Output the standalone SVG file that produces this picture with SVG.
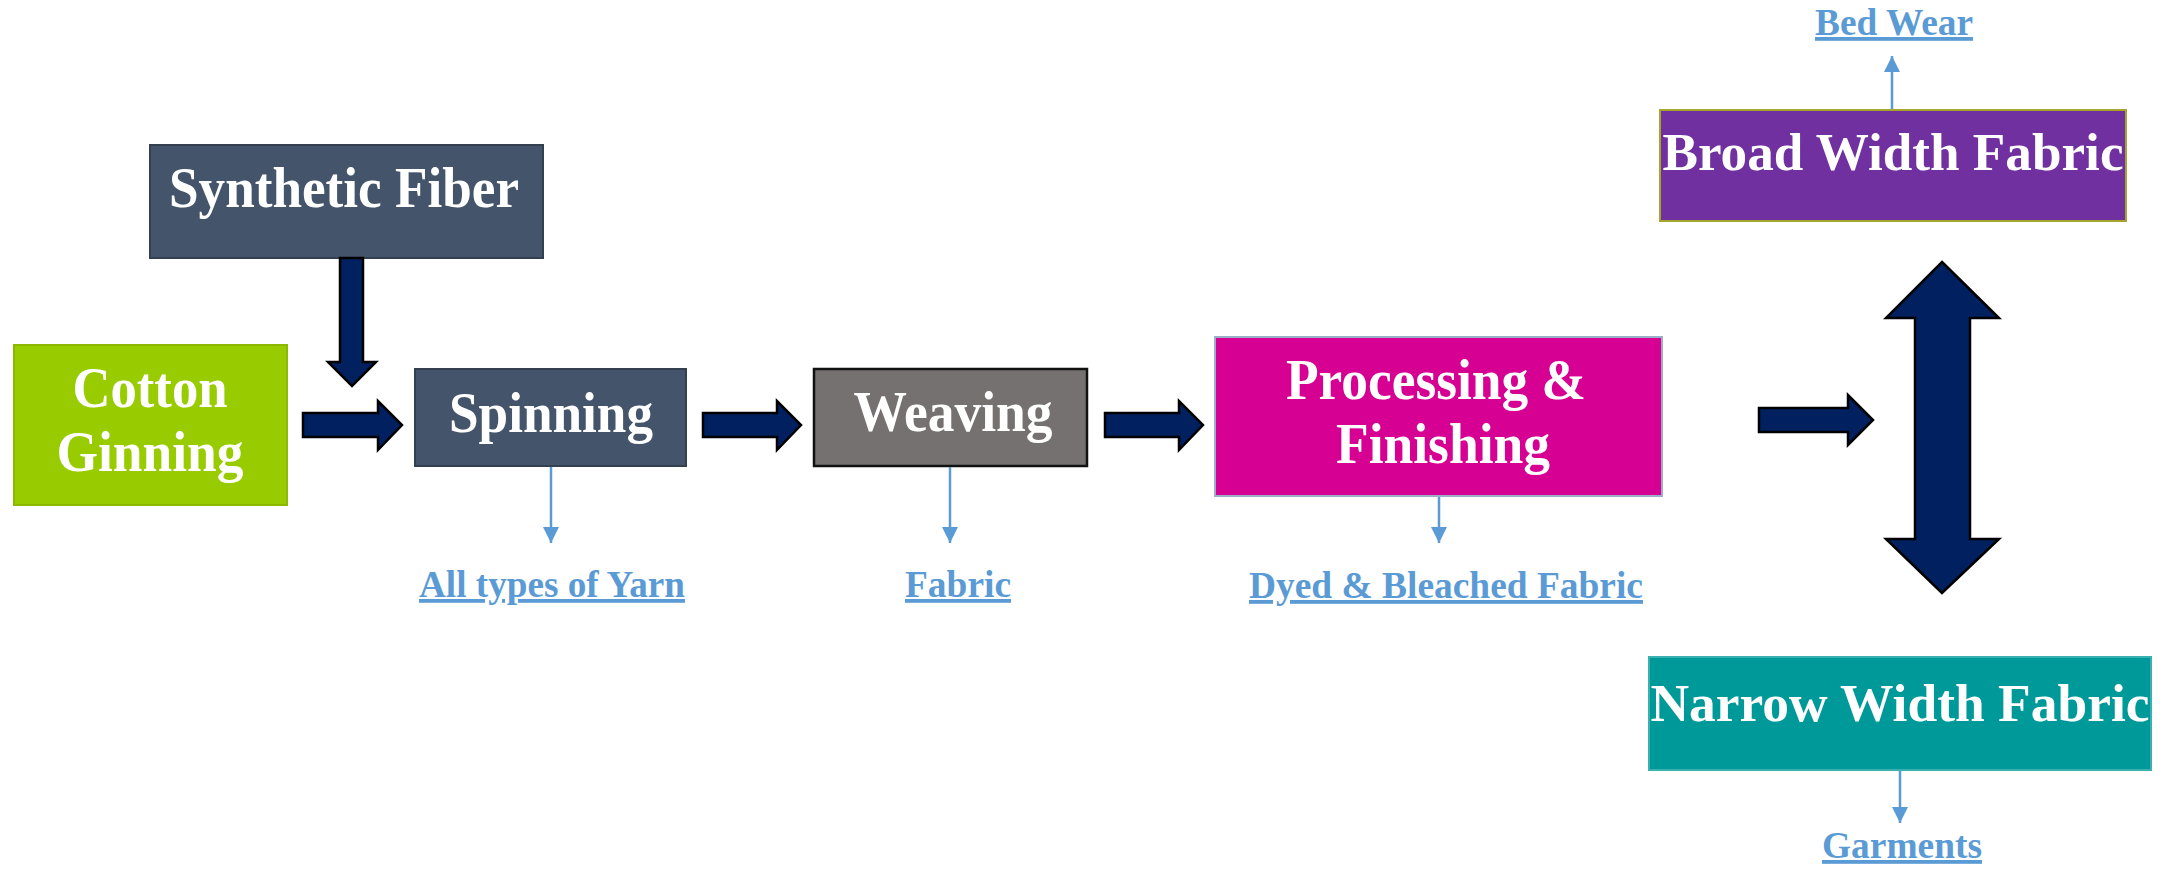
<svg xmlns="http://www.w3.org/2000/svg" width="2174" height="869" viewBox="0 0 2174 869">
<style>
.t{font-family:"Liberation Serif","Times New Roman",serif;font-weight:bold;fill:#fff;text-anchor:middle}
.lbl{font-family:"Liberation Serif","Times New Roman",serif;font-weight:bold;fill:#5B9BD5;text-anchor:middle;text-decoration:underline;font-size:38px}
.blk{fill:#002060;stroke:#000;stroke-width:2.5;stroke-linejoin:miter}
.thin{stroke:#5B9BD5;stroke-width:2.5;fill:none;marker-end:url(#ah)}
</style>
<defs>
<marker id="ah" markerUnits="userSpaceOnUse" markerWidth="16" markerHeight="16" viewBox="0 0 16 16" refX="16" refY="8" orient="auto">
<path d="M0,0 L16,8 L0,16 Z" fill="#5B9BD5"/>
</marker>
</defs>
<rect width="2174" height="869" fill="#fff"/>
<g id="synthetic-fiber">
<rect x="150" y="145" width="393" height="113" fill="#44546A" stroke="#33404F" stroke-width="2"/>
<text class="t" x="344" y="207" font-size="58" textLength="350" lengthAdjust="spacingAndGlyphs">Synthetic Fiber</text>
</g>
<g id="cotton-ginning">
<rect x="14" y="345" width="273" height="160" fill="#99CC00" stroke="#8CB800" stroke-width="2"/>
<text class="t" x="150" y="407" font-size="58" textLength="155" lengthAdjust="spacingAndGlyphs">Cotton</text>
<text class="t" x="150" y="471" font-size="58" textLength="187" lengthAdjust="spacingAndGlyphs">Ginning</text>
</g>
<g id="spinning">
<rect x="415" y="369" width="271" height="97" fill="#44546A" stroke="#33404F" stroke-width="2"/>
<text class="t" x="551" y="432" font-size="58" textLength="204" lengthAdjust="spacingAndGlyphs">Spinning</text>
</g>
<g id="weaving">
<rect x="814" y="369" width="273" height="97" fill="#767171" stroke="#111" stroke-width="2.5"/>
<text class="t" x="953" y="431" font-size="58" textLength="199" lengthAdjust="spacingAndGlyphs">Weaving</text>
</g>
<g id="processing-finishing">
<rect x="1215" y="337" width="447" height="159" fill="#D60093" stroke="#9AAFC8" stroke-width="2"/>
<text class="t" x="1436" y="399" font-size="57" textLength="300" lengthAdjust="spacingAndGlyphs">Processing &amp;</text>
<text class="t" x="1443" y="463" font-size="57" textLength="214" lengthAdjust="spacingAndGlyphs">Finishing</text>
</g>
<g id="broad-width-fabric">
<rect x="1660" y="110" width="466" height="111" fill="#7030A0" stroke="#A6A62E" stroke-width="2"/>
<text class="t" x="1893" y="170" font-size="53" textLength="461" lengthAdjust="spacingAndGlyphs">Broad Width Fabric</text>
</g>
<g id="narrow-width-fabric">
<rect x="1649" y="657" width="502" height="113" fill="#009999" stroke="#3BB0B0" stroke-width="2"/>
<text class="t" x="1900" y="721" font-size="53" textLength="499" lengthAdjust="spacingAndGlyphs">Narrow Width Fabric</text>
</g>
<g id="label-yarn"><text class="lbl" x="552" y="597" textLength="266" lengthAdjust="spacingAndGlyphs">All types of Yarn</text></g>
<g id="label-fabric"><text class="lbl" x="958" y="597" textLength="106" lengthAdjust="spacingAndGlyphs">Fabric</text></g>
<g id="label-dyed"><text class="lbl" x="1446" y="598" textLength="394" lengthAdjust="spacingAndGlyphs">Dyed &amp; Bleached Fabric</text></g>
<g id="label-bedwear"><text class="lbl" x="1894" y="35" textLength="158" lengthAdjust="spacingAndGlyphs">Bed Wear</text></g>
<g id="label-garments"><text class="lbl" x="1902" y="858" textLength="160" lengthAdjust="spacingAndGlyphs">Garments</text></g>
<g id="connectors">
<path class="blk" d="M340,258 H363 V362 H376 L352,386 L328,362 H340 Z"/>
<path class="blk" d="M303,413 H378 V401 L402,425 L378,450 V437 H303 Z"/>
<path class="blk" d="M703,413 H777 V401 L801,425 L777,450 V437 H703 Z"/>
<path class="blk" d="M1105,413 H1179 V401 L1203,425 L1179,450 V437 H1105 Z"/>
<path class="blk" d="M1759,408 H1848 V395 L1873,420 L1848,445 V432 H1759 Z"/>
<path class="blk" d="M1942,262 L1999,318 H1970 V539 H1999 L1942,593 L1886,539 H1915 V318 H1886 Z"/>
<line class="thin" x1="551" y1="467" x2="551" y2="543"/>
<line class="thin" x1="950" y1="467" x2="950" y2="543"/>
<line class="thin" x1="1439" y1="497" x2="1439" y2="543"/>
<line class="thin" x1="1892" y1="109" x2="1892" y2="56"/>
<line class="thin" x1="1900" y1="771" x2="1900" y2="823"/>
</g>
</svg>
